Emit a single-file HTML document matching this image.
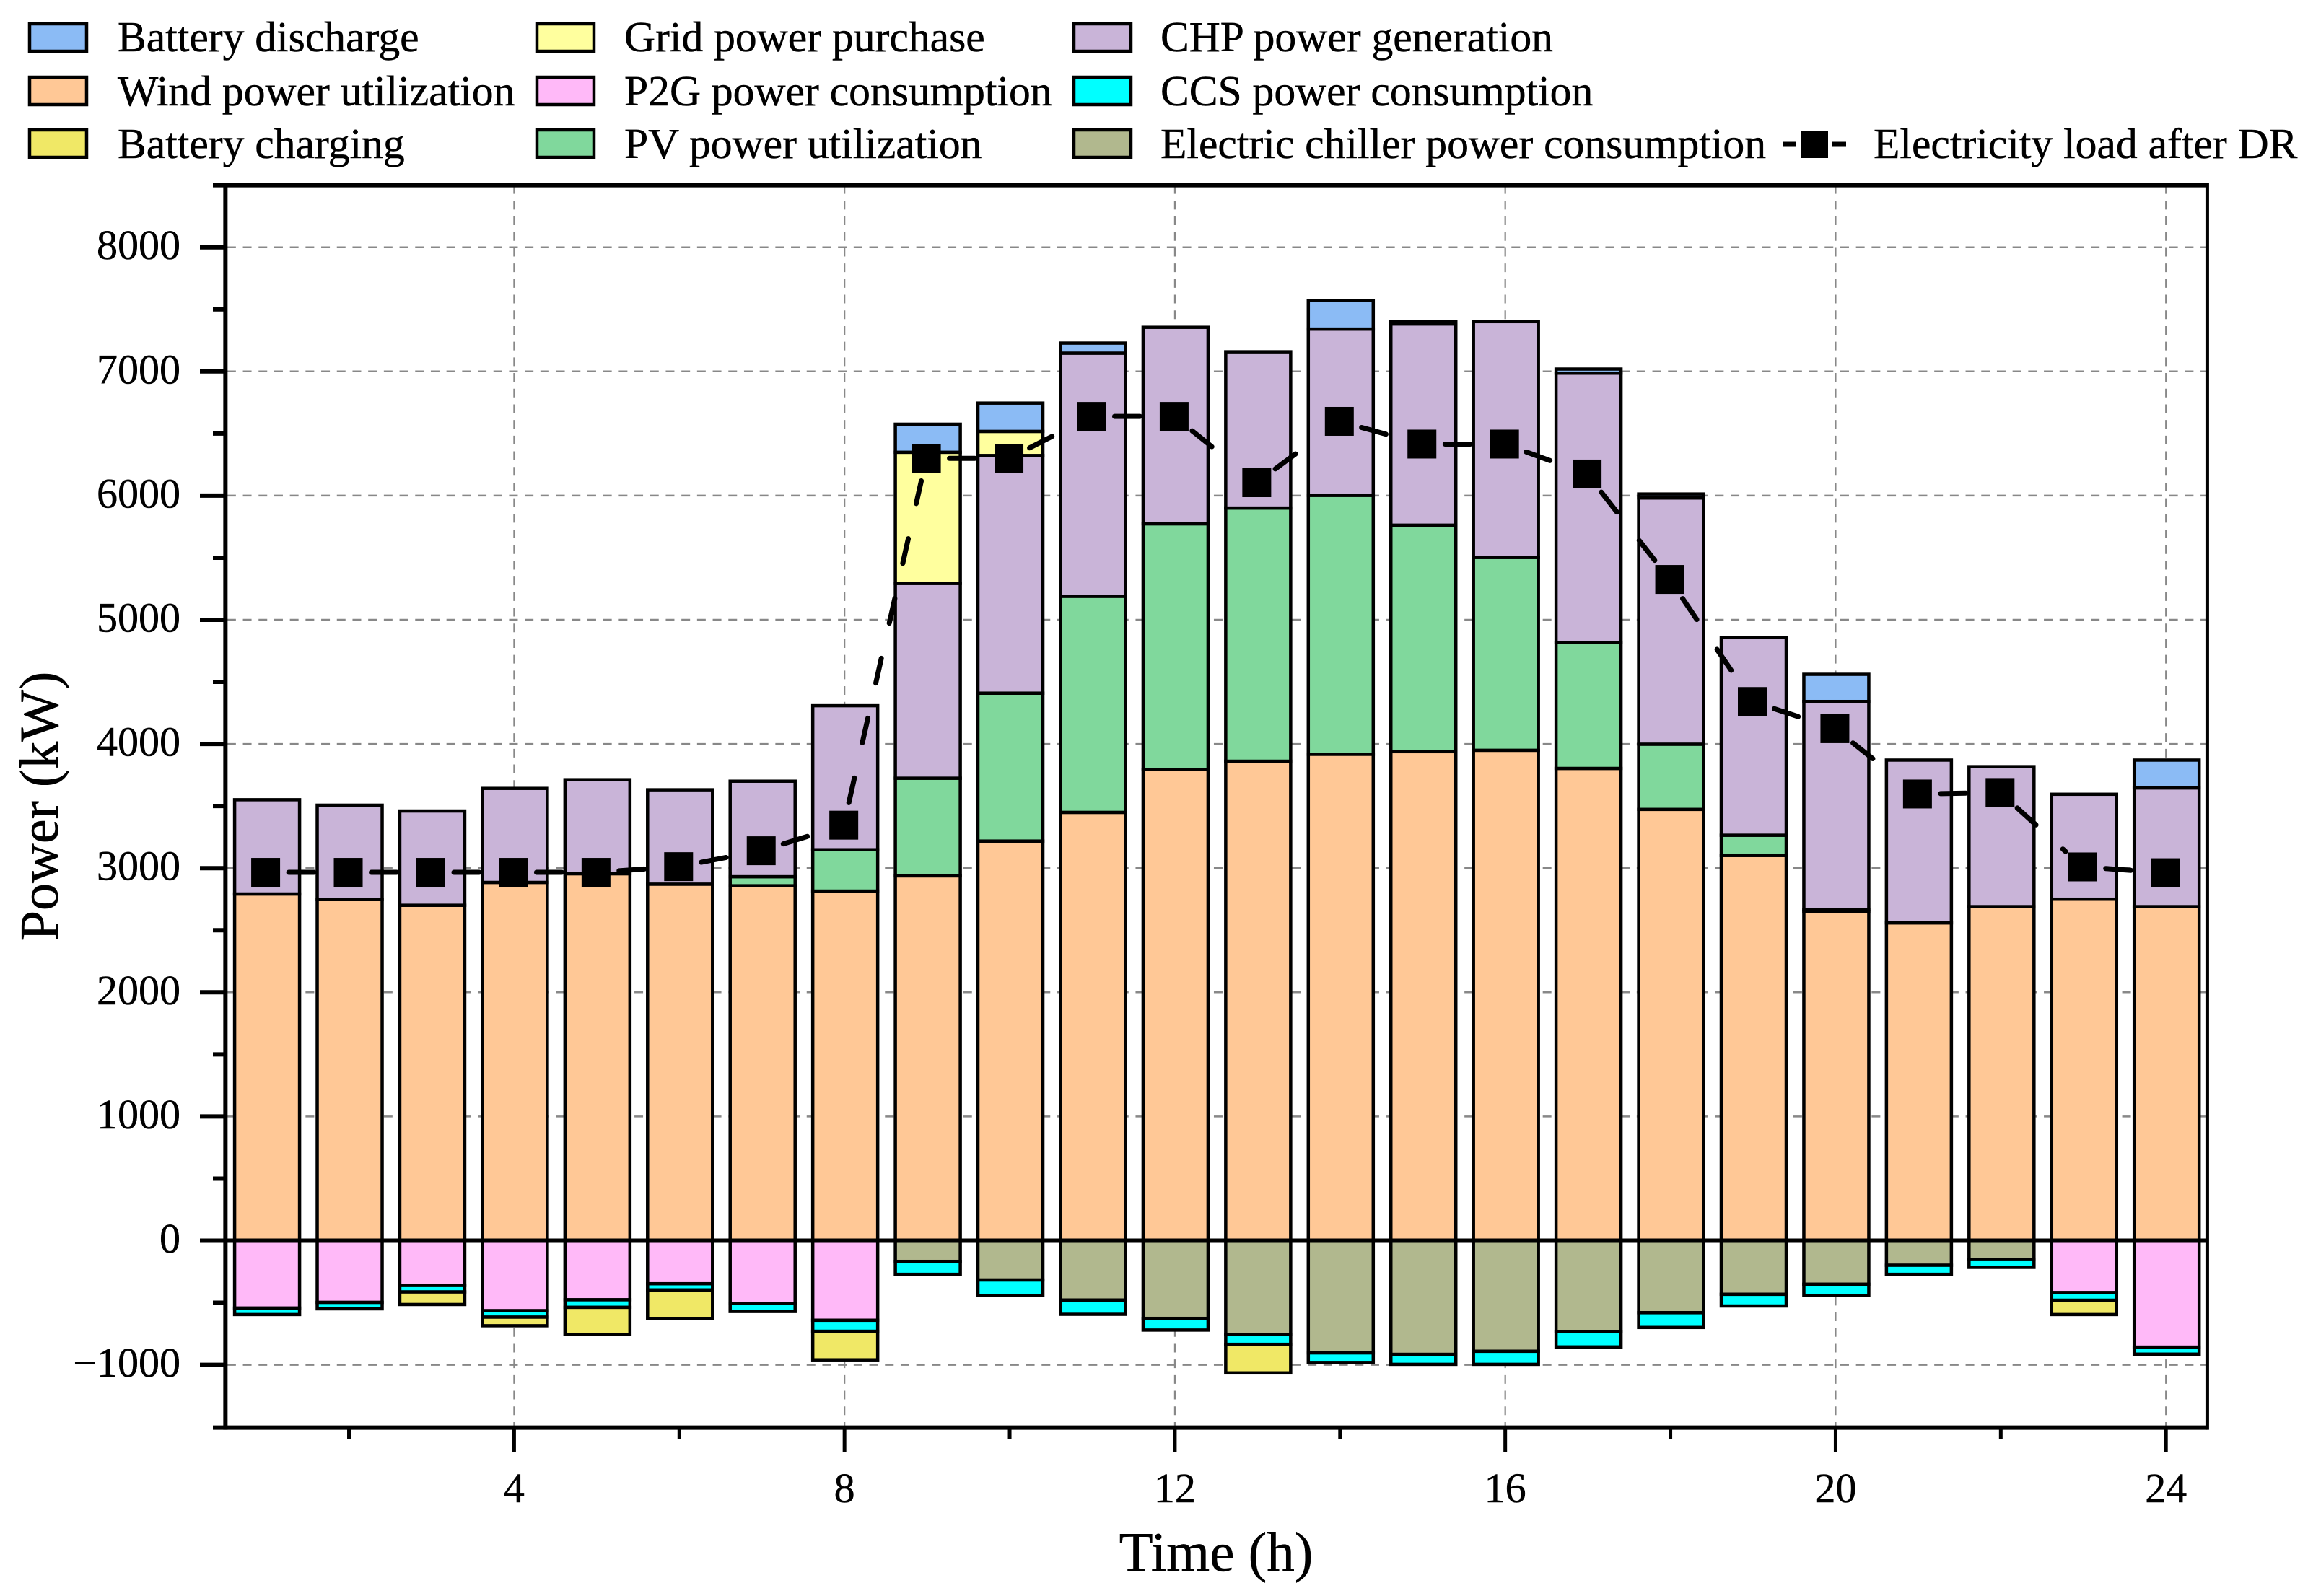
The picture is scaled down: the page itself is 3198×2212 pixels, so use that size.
<!DOCTYPE html>
<html lang="en">
<head>
<meta charset="utf-8">
<title>Power balance chart</title>
<style>
html,body{margin:0;padding:0;background:#fff;}
svg{display:block;}
text{font-family:"Liberation Serif",serif;fill:#000;stroke:#000;stroke-width:0.5px;}
</style>
</head>
<body>
<svg id="chart" xmlns="http://www.w3.org/2000/svg" width="3198" height="2212" viewBox="0 0 3198 2212">
  <rect x="0" y="0" width="3198" height="2212" fill="#fff"/>
  <g id="grid"></g>
  <g id="bars"></g>
  <g id="axes"></g>
  <g id="line"></g>
  <g id="legend"></g>
  <text x="1685" y="2177" font-size="77" text-anchor="middle">Time (h)</text>
  <text transform="translate(80,1117.5) rotate(-90)" font-size="76" text-anchor="middle">Power (kW)</text>
</svg>
<script>
const hours = [1,2,3,4,5,6,7,8,9,10,11,12,13,14,15,16,17,18,19,20,21,22,23,24];
const wind = [2792,2747,2701,2885,2955,2871,2858,2815,2938,3218,3449,3793,3861,3917,3938,3949,3803,3473,3102,2650,2559,2690,2750,2690];
const pv = [0,0,0,0,0,0,73,333,786,1191,1740,1980,2039,2085,1824,1553,1013,525,163,18,0,0,0,0];
const chp = [759,760,759,757,757,760,769,1160,1569,1914,1958,1582,1258,1339,1620,1899,2170,1983,1592,1674,1311,1127,845,956];
const gridPurchase = [0,0,0,0,0,0,0,0,1056,194,0,0,0,0,0,0,0,0,0,0,0,0,0,0];
const batteryDischarge = [0,0,0,0,0,0,0,0,226,228,81,0,0,231,22,0,33,32,0,219,0,0,0,224];
const p2g = [543,497,361,564,476,347,507,641,0,0,0,0,0,0,0,0,0,0,0,0,0,0,418,858];
const chiller = [0,0,0,0,0,0,0,0,167,317,478,626,754,904,916,891,731,580,432,351,198,152,0,0];
const ccs = [52,52,52,52,61,50,63,89,104,126,115,94,81,77,80,105,125,119,94,92,73,63,62,56];
const batteryCharging = [0,0,101,69,217,231,0,230,0,0,0,0,230,0,0,0,0,0,0,0,0,0,115,0];
const loadAfterDR = [2966,2966,2966,2966,2966,3012,3140,3346,6300,6300,6638,6638,6104,6598,6415,6415,6174,5325,4342,4123,3597,3609,3010,2963];
const yMajorTicks = [-1000,0,1000,2000,3000,4000,5000,6000,7000,8000];
const yMinorTicks = [-500,500,1500,2500,3500,4500,5500,6500,7500];
const xMajorTicks = [4,8,12,16,20,24];
const xMinorTicks = [2,6,10,14,18,22];
const legendLabels = ["Battery discharge","Wind power utilization","Battery charging","Grid power purchase","P2G power consumption","PV power utilization","CHP power generation","CCS power consumption","Electric chiller power consumption"];
const legendColors = ["#8BBBF5","#FFC896","#F0E866","#FFFF9E","#FFB9F8","#80D89C","#C9B4D8","#00FFFF","#B1B88E"];

const NS = "http://www.w3.org/2000/svg";
const xScale = h => 712.4 + 114.44 * (h - 4);
const yScale = v => 1719.5 - 0.1721 * v;
const plotLeft = xScale(0.5), plotRight = xScale(24.5), plotTop = yScale(8500), plotBottom = yScale(-1500) + 1;

function make(parent, tag, attrs, text) {
  const el = document.createElementNS(NS, tag);
  for (const k in attrs) el.setAttribute(k, attrs[k]);
  if (text !== undefined) el.textContent = text;
  parent.appendChild(el);
  return el;
}

/* grid */
const gridG = document.getElementById("grid");
yMajorTicks.forEach(v => {
  const l = make(gridG, "line", {x1: plotLeft + 3, x2: plotRight, y1: yScale(v), y2: yScale(v), stroke: "#888", "stroke-width": 2.5, "stroke-dasharray": "12 9.7"});
  
  
});
xMajorTicks.forEach(h => {
  const l = make(gridG, "line", {x1: xScale(h), x2: xScale(h), y1: plotTop, y2: plotBottom, stroke: "#888", "stroke-width": 2.2, "stroke-dasharray": "12 9.7"});
  
  
});

/* bars */
const barsG = document.getElementById("bars");
const positiveStack = [[wind,"#FFC896","wind"],[pv,"#80D89C","pv"],[chp,"#C9B4D8","chp"],[gridPurchase,"#FFFF9E","grid-purchase"],[batteryDischarge,"#8BBBF5","battery-discharge"]];
const negativeStack = [[p2g,"#FFB9F8","p2g"],[chiller,"#B1B88E","chiller"],[ccs,"#00FFFF","ccs"],[batteryCharging,"#F0E866","battery-charging"]];
const barWidth = 90;
function drawStack(stack, sign) {
  hours.forEach((h, i) => {
    let base = 0;
    stack.forEach(s => {
      const val = s[0][i];
      if (!val) return;
      const next = base + sign * val;
      const y1 = yScale(Math.max(base, next)), y2 = yScale(Math.min(base, next));
      const r = make(barsG, "rect", {x: xScale(h) + 1 - barWidth / 2, y: y1, width: barWidth, height: y2 - y1, fill: s[1], stroke: "#000", "stroke-width": 4.5});
      
      
      base = next;
    });
  });
}
drawStack(positiveStack, 1);
drawStack(negativeStack, -1);

/* axes */
const axesG = document.getElementById("axes");
function axisLine(name, x1, y1, x2, y2, w) {
  const l = make(axesG, "line", {x1, y1, x2, y2, stroke: "#000", "stroke-width": w});
  
  
}
axisLine('left-axis', plotLeft + .5, plotTop, plotLeft + .5, plotBottom + 3, 6);
axisLine('right-axis', plotRight, plotTop - 3, plotRight, plotBottom + 3, 5);
axisLine('top-axis', 295, plotTop, plotRight, plotTop, 6);
axisLine('bottom-axis', 295, plotBottom, plotRight, plotBottom, 6);
axisLine('zero-line', 277, yScale(0), plotRight, yScale(0), 6);
yMajorTicks.forEach(v => {
  if (v !== 0) axisLine('y-major-tick', 277, yScale(v), plotLeft, yScale(v), 6);
  const t = make(axesG, "text", {x: 250, y: yScale(v) + 16.5, "font-size": 58, "text-anchor": "end"}, String(v).replace("-", "\u2212"));
  
  
});
yMinorTicks.forEach(v => axisLine('y-minor-tick', 295, yScale(v), plotLeft, yScale(v), 6));
xMajorTicks.forEach(h => {
  axisLine('x-major-tick', xScale(h), plotBottom, xScale(h), 2013, 5);
  const t = make(axesG, "text", {x: xScale(h), y: 2082, "font-size": 58, "text-anchor": "middle"}, String(h));
  
  
});
xMinorTicks.forEach(h => axisLine('x-minor-tick', xScale(h), plotBottom, xScale(h), 1995, 5));

/* load line: each segment restarts its dash pattern, leaving a gap around the symbols */
const lineG = document.getElementById("line");
const markerGap = 32, markerSize = 40, markerShift = -1;
hours.forEach((h, i) => {
  if (i === hours.length - 1) return;
  const x0 = xScale(h) + markerShift, y0 = yScale(loadAfterDR[i]);
  const x1 = xScale(hours[i + 1]) + markerShift, y1 = yScale(loadAfterDR[i + 1]);
  const len = Math.hypot(x1 - x0, y1 - y0);
  const ux = (x1 - x0) / len, uy = (y1 - y0) / len;
  const seg = make(lineG, "line", {x1: x0 + ux * markerGap, y1: y0 + uy * markerGap, x2: x1 - ux * markerGap, y2: y1 - uy * markerGap, stroke: "#000", "stroke-width": 7, "stroke-linecap": "round", "stroke-dasharray": "35 50"});
  
  
});
hours.forEach((h, i) => {
  const m = make(lineG, "rect", {x: xScale(h) + markerShift - markerSize / 2, y: yScale(loadAfterDR[i]) - markerSize / 2, width: markerSize, height: markerSize, fill: "#000"});
  
  
});

/* legend */
const legendG = document.getElementById("legend");
const colX = [41, 744, 1488], textX = [163, 865, 1608], rowY = [33, 107, 180], rowBase = [71, 146, 219];
legendLabels.forEach((label, i) => {
  const c = Math.floor(i / 3), r = i % 3;
  const sw = make(legendG, "rect", {x: colX[c], y: rowY[r], width: 79, height: 38, fill: legendColors[i], stroke: "#000", "stroke-width": 4.5});
  
  
  const t = make(legendG, "text", {x: textX[c], y: rowBase[r], "font-size": 59.6}, label);
  
  
});
const lgDash1 = make(legendG, "line", {x1: 2471, x2: 2489, y1: 200, y2: 200, stroke: "#000", "stroke-width": 7});


const lgDash2 = make(legendG, "line", {x1: 2538, x2: 2558, y1: 200, y2: 200, stroke: "#000", "stroke-width": 7});


const lgMarker = make(legendG, "rect", {x: 2495, y: 182, width: 38, height: 37, fill: "#000"});


const lgText = make(legendG, "text", {x: 2596, y: 219, "font-size": 59.6}, "Electricity load after DR");


</script>
</body>
</html>
